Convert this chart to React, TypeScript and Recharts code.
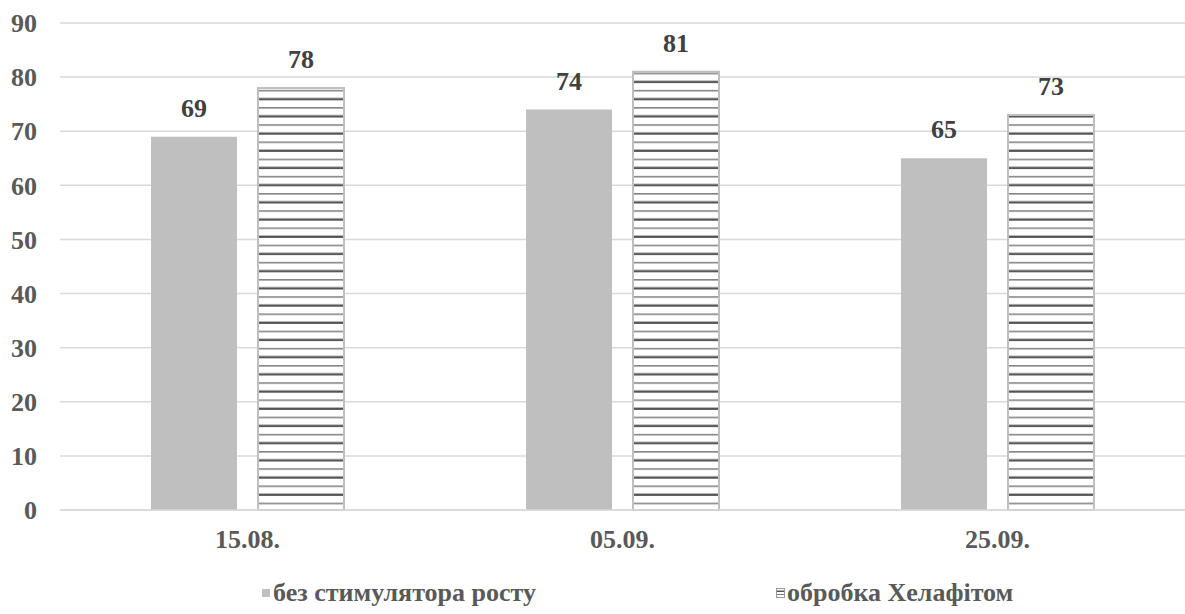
import React from 'react'
import { BarChart, Bar, XAxis, YAxis, CartesianGrid, LabelList } from 'recharts'

const dates = ['15.08.', '05.09.', '25.09.']
const control = [69, 74, 65]
const chelafit = [78, 81, 73]
const yTicks = [0, 10, 20, 30, 40, 50, 60, 70, 80, 90]
const seriesNames = ['без стимулятора росту', 'обробка Хелафітом']

const data = dates.map((d, i) => ({ date: d, control: control[i], chelafit: chelafit[i] }))

const font = '"Liberation Serif", "Times New Roman", serif'
const tickStyle = { fontFamily: font, fontWeight: 700, fontSize: 26, fill: '#595959' }
const labelStyle = { fontFamily: font, fontWeight: 700, fontSize: 26, fill: '#404040' }

export default function App() {
  return (
    <div style={{ position: 'absolute', left: 0, top: 0, width: 1185, height: 614, background: '#fff' }}>
      <BarChart
        width={1185}
        height={614}
        data={data}
        margin={{ top: 23, right: 0, left: 0, bottom: 64 }}
        barSize={86}
        barGap={21}
      >
        <defs>
          <pattern id="hatch" width="8" height="17.2" patternUnits="userSpaceOnUse">
            <rect width="8" height="17.2" fill="#fff" />
            <rect y="4" width="8" height="1.3" fill="#6a6a6a" />
            <rect y="12" width="8" height="2.3" fill="#555" />
          </pattern>
        </defs>
        <CartesianGrid vertical={false} stroke="#d9d9d9" strokeWidth={1.5} />
        <XAxis
          dataKey="date"
          height={40}
          tickLine={false}
          tickSize={0}
          tickMargin={20}
          axisLine={{ stroke: '#d9d9d9', strokeWidth: 1.5 }}
          tick={tickStyle}
        />
        <YAxis
          width={60}
          domain={[0, 90]}
          ticks={yTicks}
          interval={0}
          tickLine={false}
          tickSize={0}
          tickMargin={23}
          axisLine={false}
          tick={tickStyle}
        />
        <Bar dataKey="control" name={seriesNames[0]} fill="#bfbfbf" isAnimationActive={false}>
          <LabelList dataKey="control" position="top" offset={20} style={labelStyle} />
        </Bar>
        <Bar dataKey="chelafit" name={seriesNames[1]} fill="url(#hatch)" stroke="#bfbfbf" strokeWidth={2} isAnimationActive={false}>
          <LabelList dataKey="chelafit" position="top" offset={20} style={labelStyle} />
        </Bar>
      </BarChart>

      <div style={{ position: 'absolute', top: 578, left: 262, display: 'flex', alignItems: 'center', fontFamily: font, fontWeight: 700, fontSize: 26, color: '#595959', whiteSpace: 'nowrap' }}>
        <span style={{ width: 8, height: 8, background: '#bfbfbf', marginRight: 3, display: 'inline-block' }} />
        {seriesNames[0]}
      </div>
      <div style={{ position: 'absolute', top: 578, left: 776, display: 'flex', alignItems: 'center', fontFamily: font, fontWeight: 700, fontSize: 26, color: '#595959', whiteSpace: 'nowrap' }}>
        <svg width={9} height={10} style={{ marginRight: 2 }}>
          <rect x={0.5} y={0.5} width={8} height={9} fill="#fff" stroke="#999" />
          <rect x={1} y={2.5} width={7} height={1.5} fill="#555" />
          <rect x={1} y={6} width={7} height={1} fill="#777" />
        </svg>
        {seriesNames[1]}
      </div>
    </div>
  )
}
